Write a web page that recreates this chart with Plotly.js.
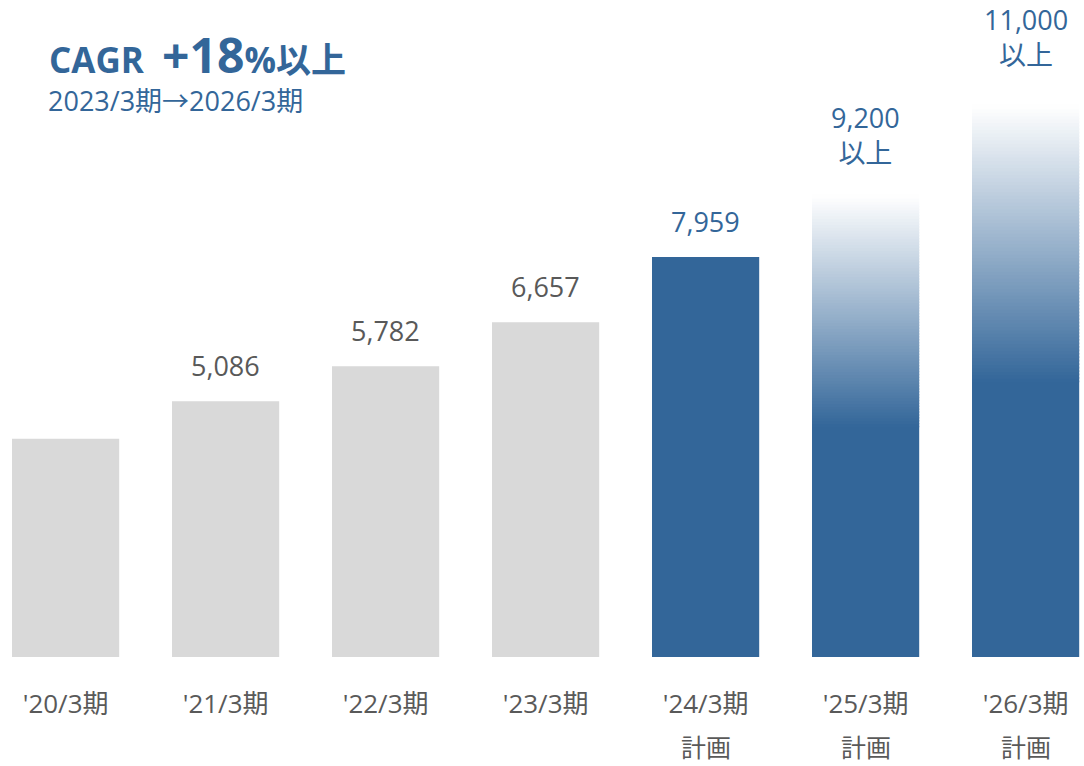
<!DOCTYPE html>
<html>
<head>
<meta charset="utf-8">
<script src="https://cdn.plot.ly/plotly-3.0.1.min.js"></script>
<style>
  body { margin: 0; background: #fff; }
  #chart { width: 1084px; height: 766px; }
</style>
</head>
<body>
<div id="chart"></div>
<script>
// data
var periods = ["'20/3期", "'21/3期", "'22/3期", "'23/3期", "'24/3期", "'25/3期", "'26/3期"];
var values = [4340, 5086, 5782, 6657, 7959, 9200, 11000];
var valueLabels = ['', '5,086', '5,782', '6,657', '7,959', '9,200<br>以上', '11,000<br>以上'];
var isPlan = [false, false, false, false, true, true, true];
var isFaded = [false, false, false, false, false, true, true];

var blue = '#336699';
var gray = '#d9d9d9';
var labelGray = '#595959';
var font = '"Open Sans", "Noto Sans CJK JP", sans-serif';

// solid part of each bar (faded bars are solid up to half their value)
var solidY = [];
var solidColor = [];
for (var i = 0; i < values.length; i++) {
  solidY.push(isFaded[i] ? values[i] * 0.5 : values[i]);
  solidColor.push(isPlan[i] ? blue : gray);
}

var dataSolid = {
  x: periods,
  y: solidY,
  type: 'bar',
  marker: { color: solidColor, line: { width: 0 } },
  hoverinfo: 'skip'
};

// fade: thin opaque slices going from blue to white on top of the solid part
// each slice overlaps the one below by half a step so no seams show
var steps = 80;
var fadeX = [], fadeBase = [], fadeY = [], fadeColor = [];
for (var i = 0; i < values.length; i++) {
  if (!isFaded[i]) continue;
  var half = values[i] * 0.5;
  var h = half / steps;
  for (var k = 0; k < steps; k++) {
    fadeX.push(periods[i]);
    fadeBase.push(half + (k - 0.5) * h);
    fadeY.push(h * 1.5);
    var t = (k + 0.5) / steps;
    var r = Math.round(51 + (255 - 51) * t);
    var g = Math.round(102 + (255 - 102) * t);
    var b = Math.round(153 + (255 - 153) * t);
    fadeColor.push('rgb(' + r + ',' + g + ',' + b + ')');
  }
}

var dataFade = {
  x: fadeX,
  y: fadeY,
  base: fadeBase,
  type: 'bar',
  marker: { color: fadeColor, line: { width: 0 } },
  hoverinfo: 'skip'
};

var labelShift = [15, 15, 15, 15, 15, 22, 29];

var annotations = [];
for (var i = 0; i < values.length; i++) {
  if (valueLabels[i]) {
    annotations.push({
      x: periods[i], y: values[i], xref: 'x', yref: 'y',
      text: valueLabels[i], showarrow: false,
      xanchor: 'center', yanchor: 'bottom', yshift: labelShift[i],
      font: { family: font, size: 27, color: isPlan[i] ? blue : labelGray }
    });
  }
  if (isPlan[i]) {
    annotations.push({
      x: periods[i], y: 0, xref: 'x', yref: 'y',
      text: '計画', showarrow: false,
      xanchor: 'center', yanchor: 'middle', yshift: -90,
      font: { family: font, size: 25, color: labelGray }
    });
  }
}

// heading (pixel positions from the top-left of the page)
var plotH = 657;
annotations.push({
  x: 47 / 1084, y: (766 - 89 - 109) / plotH, xref: 'paper', yref: 'paper',
  text: '<b>CAGR  <span style="font-size:48px">+18</span>%以上</b>',
  showarrow: false, xanchor: 'left', yanchor: 'bottom',
  font: { family: font, size: 35, color: blue }
});
annotations.push({
  x: 46 / 1084, y: (766 - 121 - 109) / plotH, xref: 'paper', yref: 'paper',
  text: '2023/3期→2026/3期',
  showarrow: false, xanchor: 'left', yanchor: 'bottom',
  font: { family: font, size: 27, color: blue }
});

var layout = {
  width: 1084,
  height: 766,
  margin: { l: 0, r: 0, t: 0, b: 109 },
  paper_bgcolor: '#fff',
  plot_bgcolor: '#fff',
  barmode: 'overlay',
  bargap: 0.33,
  showlegend: false,
  xaxis: {
    type: 'category',
    range: [-0.41, 6.365],
    showgrid: false,
    zeroline: false,
    showline: false,
    ticks: '',
    ticklabelstandoff: 29,
    tickfont: { family: font, size: 26, color: labelGray }
  },
  yaxis: {
    range: [0, 13070],
    showgrid: false,
    zeroline: false,
    showline: false,
    showticklabels: false
  },
  annotations: annotations
};

Plotly.newPlot('chart', [dataSolid, dataFade], layout, { displayModeBar: false, staticPlot: true });
</script>
</body>
</html>
